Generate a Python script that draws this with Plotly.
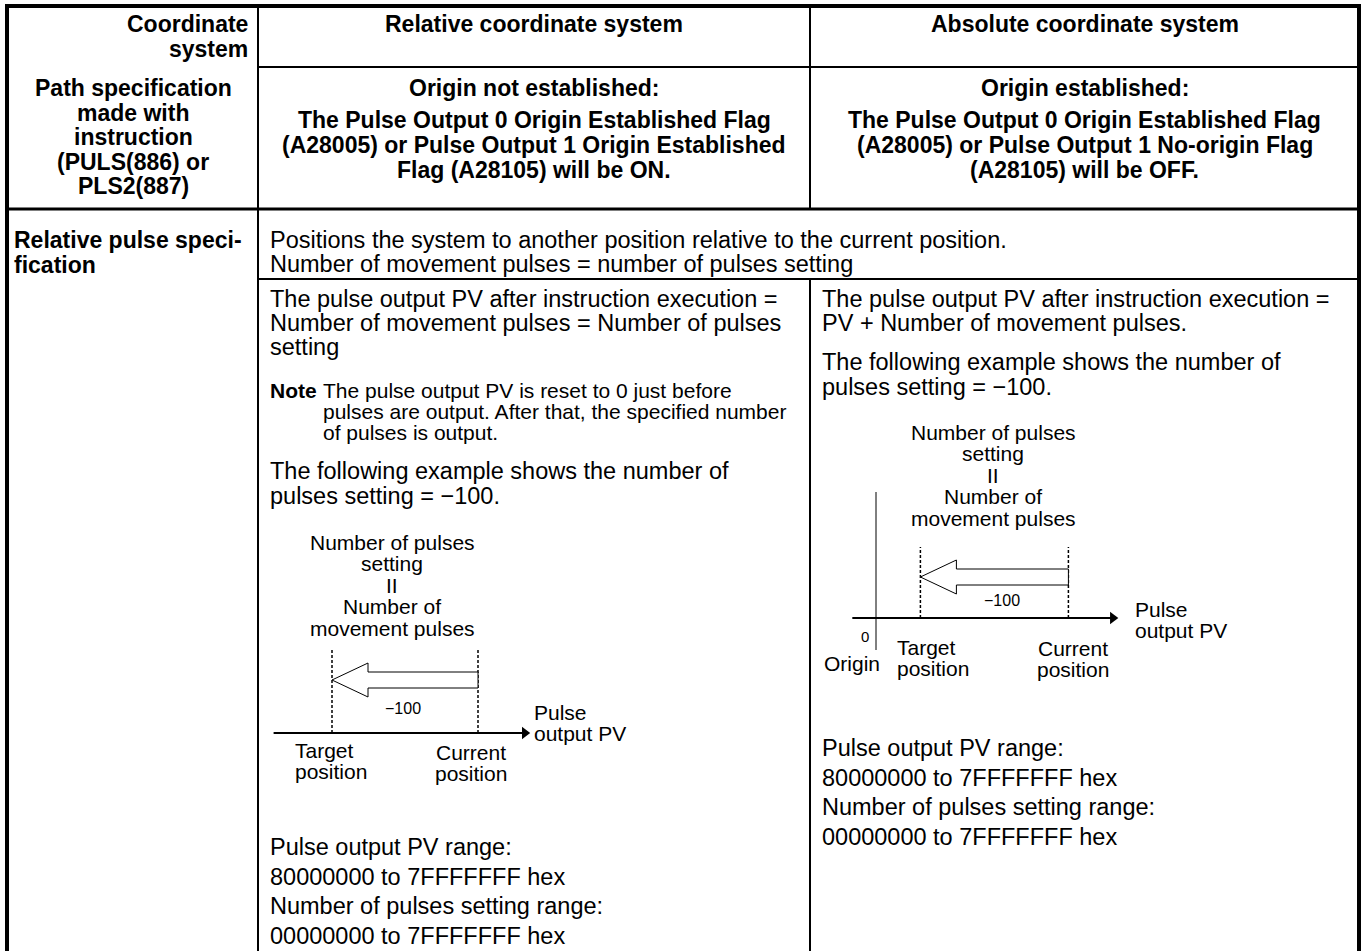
import plotly.graph_objects as go

W, H = 1364, 951
FONT = "Liberation Sans, Arial, Helvetica, sans-serif"

# ---------------- text content ----------------
col1_top = ["Coordinate", "system"]
col1_bottom = ["Path specification", "made with", "instruction", "(PULS(886) or", "PLS2(887)"]
col_titles = ["Relative coordinate system", "Absolute coordinate system"]
origin_state = ["Origin not established:", "Origin established:"]
flag_lines_rel = ["The Pulse Output 0 Origin Established Flag",
                  "(A28005) or Pulse Output 1 Origin Established",
                  "Flag (A28105) will be ON."]
flag_lines_abs = ["The Pulse Output 0 Origin Established Flag",
                  "(A28005) or Pulse Output 1 No-origin Flag",
                  "(A28105) will be OFF."]
row_label = ["Relative pulse speci-", "fication"]
shared_lines = ["Positions the system to another position relative to the current position.",
                "Number of movement pulses = number of pulses setting"]
rel_pv_lines = ["The pulse output PV after instruction execution =",
                "Number of movement pulses = Number of pulses",
                "setting"]
abs_pv_lines = ["The pulse output PV after instruction execution =",
                "PV + Number of movement pulses."]
note_label = "Note"
note_lines = ["The pulse output PV is reset to 0 just before",
              "pulses are output. After that, the specified number",
              "of pulses is output."]
example_lines = ["The following example shows the number of",
                 "pulses setting = \u2212100."]
diagram_title = ["Number of pulses", "setting", "II", "Number of", "movement pulses"]
axis_label = ["Pulse", "output PV"]
target_label = ["Target", "position"]
current_label = ["Current", "position"]
origin_label = "Origin"
range_lines = ["Pulse output PV range:", "80000000 to 7FFFFFFF hex",
               "Number of pulses setting range:", "00000000 to 7FFFFFFF hex"]

# ---------------- diagram values (pulses) ----------------
pulses_setting = -100
rel_current_pv = 0          # PV reset to 0 before output
rel_axis_extent = [-140, 32]
abs_origin_pv = 0
abs_current_pv = 130
abs_axis_extent = [-16, 160]

# ---------------- layout (pixel geometry) ----------------
X_L, X_R, Y_T = 7, 1359, 6
X_C1, X_C2 = 258, 810
Y_H1, Y_H2, Y_H3 = 67, 209, 279
BODY = 23.5
HEAD = 23

annotations = []
shapes = []


def txt(x, y, s, size=BODY, bold=False, anchor="left"):
    if bold:
        s = "<b>" + s + "</b>"
    annotations.append(dict(x=x, y=y, xref="x", yref="y", text=s, showarrow=False,
                            xanchor=anchor, yanchor="middle",
                            font=dict(family=FONT, size=size, color="black")))


def line(x0, y0, x1, y1, w=2):
    shapes.append(dict(type="line", xref="x", yref="y", x0=x0, y0=y0, x1=x1, y1=y1,
                       line=dict(color="black", width=w)))


# table rules
line(X_L, Y_T, X_L, H + 5, 4)
line(X_R, Y_T, X_R, H + 5, 4)
line(X_L - 2, Y_T, X_R + 2, Y_T, 4)
line(X_C1, Y_T, X_C1, H + 5, 2)
line(X_C2, Y_T, X_C2, Y_H2, 2)
line(X_C2, Y_H3, X_C2, H + 5, 2)
line(X_C1, Y_H1, X_R, Y_H1, 2)
line(X_L, Y_H2, X_R, Y_H2, 3)
line(X_C1, Y_H3, X_R, Y_H3, 2)

# column 1
for i, s in enumerate(col1_top):
    txt(250, 24 + 25 * i, s, HEAD, True, "right")
for i, s in enumerate(col1_bottom):
    txt(133, 88 + 24.5 * i, s, HEAD, True, "center")
for i, s in enumerate(row_label):
    txt(12, 240 + 24.5 * i, s, HEAD, True, "left")

# header columns 2 and 3
cx = [(X_C1 + X_C2) / 2, (X_C2 + X_R) / 2]
for k in range(2):
    txt(cx[k], 24, col_titles[k], HEAD, True, "center")
    txt(cx[k], 88, origin_state[k], HEAD, True, "center")
    fl = flag_lines_rel if k == 0 else flag_lines_abs
    for i, s in enumerate(fl):
        txt(cx[k], 120 + 25 * i, s, HEAD, True, "center")

# spanned row
txt(268, 240, shared_lines[0])
txt(268, 264, shared_lines[1])

# column 2 body
TX2 = 268
for i, s in enumerate(rel_pv_lines):
    txt(TX2, 299 + 24 * i, s)
txt(TX2, 390, note_label, 21, True)
for i, s in enumerate(note_lines):
    txt(321, 390 + 21 * i, s, 21)
for i, s in enumerate(example_lines):
    txt(TX2, 471 + 25 * i, s)
for i, s in enumerate(diagram_title):
    txt(392, 542 + 21.5 * i, s, 21, False, "center")
txt(403, 708, "\u2212" + str(abs(pulses_setting)), 16, False, "center")
for i, s in enumerate(axis_label):
    txt(532, 712 + 21 * i, s, 21)
for i, s in enumerate(target_label):
    txt(293, 750 + 21.5 * i, s, 21)
for i, s in enumerate(current_label):
    txt(471, 752 + 21.5 * i, s, 21, False, "center")
for i, s in enumerate(range_lines):
    txt(TX2, 847 + 29.5 * i, s)

# column 3 body
TX3 = 820
for i, s in enumerate(abs_pv_lines):
    txt(TX3, 299 + 24 * i, s)
for i, s in enumerate(example_lines):
    txt(TX3, 362 + 25 * i, s)
for i, s in enumerate(diagram_title):
    txt(993, 432 + 21.5 * i, s, 21, False, "center")
txt(1002, 600, "\u2212" + str(abs(pulses_setting)), 16, False, "center")
txt(871, 636, str(abs_origin_pv), 15, False, "right")
txt(852, 663, origin_label, 21, False, "center")
for i, s in enumerate(axis_label):
    txt(1133, 609 + 21 * i, s, 21)
for i, s in enumerate(target_label):
    txt(895, 647 + 21.5 * i, s, 21)
for i, s in enumerate(current_label):
    txt(1073, 648 + 21.5 * i, s, 21, False, "center")
for i, s in enumerate(range_lines):
    txt(TX3, 748 + 29.5 * i, s)


# ---------------- diagrams on their own scaled axes ----------------
def ranges(px0, s, axis_px):
    """x range so that value 0 sits at pixel px0 with s pixels per pulse;
    y range in pixel units with 0 on the axis line."""
    xr = [-px0 / s, (W - px0) / s]
    yr = [-(H - axis_px), axis_px]
    return xr, yr


fig = go.Figure()

diagrams = [
    dict(ax="2", px0=478, s=1.46, axis_px=733, current=rel_current_pv,
         extent=rel_axis_extent, dash_top=83, arrow_y=53, origin=None),
    dict(ax="3", px0=876, s=1.48, axis_px=618, current=abs_current_pv,
         extent=abs_axis_extent, dash_top=71, arrow_y=41, origin=abs_origin_pv),
]

layout_axes = {}
for d in diagrams:
    xa, ya = "x" + d["ax"], "y" + d["ax"]
    xr, yr = ranges(d["px0"], d["s"], d["axis_px"])
    layout_axes["xaxis" + d["ax"]] = dict(domain=[0, 1], range=xr, visible=False,
                                          anchor=ya, fixedrange=True)
    layout_axes["yaxis" + d["ax"]] = dict(domain=[0, 1], range=yr, visible=False,
                                          anchor=xa, fixedrange=True)
    cur = d["current"]
    tgt = cur + pulses_setting
    head = 36 / d["s"]
    yc = d["arrow_y"]
    fig.add_trace(go.Scatter(x=d["extent"], y=[0, 0], xaxis=xa, yaxis=ya, mode="lines",
                             line=dict(color="black", width=2), hoverinfo="skip"))
    fig.add_trace(go.Scatter(x=[d["extent"][1]], y=[0], xaxis=xa, yaxis=ya, mode="markers",
                             marker=dict(symbol="triangle-right", size=11, color="black"),
                             hoverinfo="skip"))
    for v in (tgt, cur):
        fig.add_trace(go.Scatter(x=[v, v], y=[0, d["dash_top"]], xaxis=xa, yaxis=ya,
                                 mode="lines", hoverinfo="skip",
                                 line=dict(color="black", width=1.5, dash="3px,2px")))
    ax_ = [tgt, tgt + head, tgt + head, cur, cur, tgt + head, tgt + head, tgt]
    ay_ = [yc, yc + 17, yc + 8, yc + 8, yc - 8, yc - 8, yc - 17, yc]
    fig.add_trace(go.Scatter(x=ax_, y=ay_, xaxis=xa, yaxis=ya, mode="lines",
                             fill="toself", fillcolor="white",
                             line=dict(color="black", width=1), hoverinfo="skip"))
    if d["origin"] is not None:
        fig.add_trace(go.Scatter(x=[d["origin"], d["origin"]], y=[-32, 126], xaxis=xa,
                                 yaxis=ya, mode="lines", hoverinfo="skip",
                                 line=dict(color="black", width=1)))

fig.update_layout(
    width=W, height=H,
    margin=dict(l=0, r=0, t=0, b=0),
    paper_bgcolor="white", plot_bgcolor="rgba(0,0,0,0)",
    showlegend=False,
    xaxis=dict(range=[0, W], visible=False, fixedrange=True),
    yaxis=dict(range=[H, 0], visible=False, fixedrange=True),
    annotations=annotations,
    shapes=shapes,
    **layout_axes,
)

fig.write_html("out.html", config={"displayModeBar": False},
               post_script="document.body.style.margin='0px';document.body.style.overflow='hidden';")
